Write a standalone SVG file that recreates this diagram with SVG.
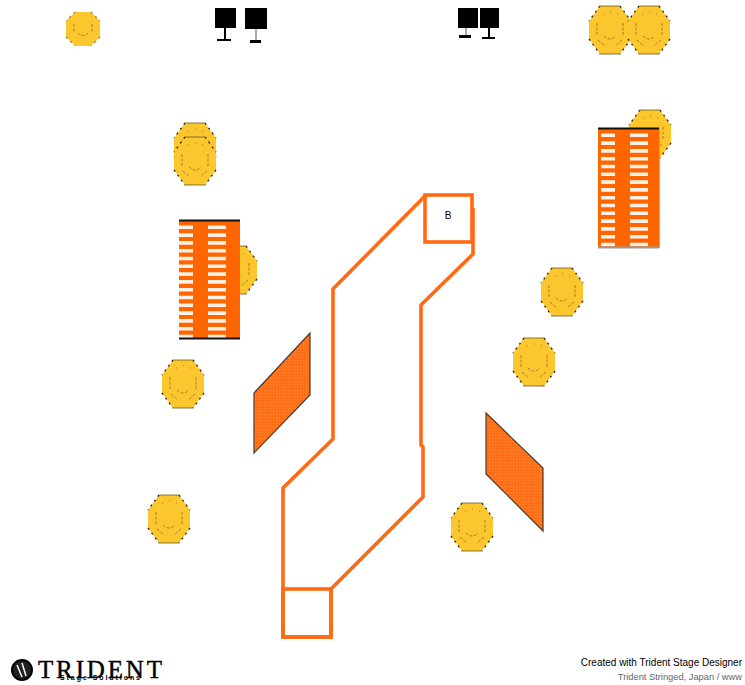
<svg xmlns="http://www.w3.org/2000/svg" width="745" height="685" viewBox="0 0 745 685">
<style>
.st{fill:none;stroke:#ff6a13;stroke-width:3.6}
.oct{fill:#fcc62f}
.edge{fill:none;stroke:#2c2a20;stroke-width:1.4;stroke-dasharray:2 4}
.cap{fill:none;stroke:#6a5a20;stroke-width:.8}
.f{fill:none;stroke:#a88420;stroke-width:1;stroke-dasharray:3 1.5}
.tr{fill:#ff6600}
.ramp{fill:url(#dots);stroke:#4a3a2a;stroke-width:1.2}
.t{font-family:"Liberation Sans",Arial,sans-serif}
</style>
<defs>
<pattern id="dots" width="3" height="3" patternUnits="userSpaceOnUse">
<rect width="3" height="3" fill="#ff6e14"/><rect width="1.2" height="1.2" fill="#ff8a3c"/>
</pattern>
<g id="smile">
<polygon class="oct" points="-10,-24 10,-24 21,-9 21,9 10,24 -10,24 -21,9 -21,-9"/>
<path class="edge" d="M-10-24L-21-9M10-24L21-9M-21 9L-10 24M21 9L10 24"/>
<path class="cap" d="M-10-24H10M-10 24H10"/>
<path class="f" d="M-13-7V5M13-7V5M-12 10L-5 16M12 10L5 16M-6 6Q0 12 6 6M-7-16H-6M0-18H1M7-16H8"/>
</g>
<g id="smile-small">
<polygon class="oct" points="-8,-17 8,-17 17,-8 17,8 8,17 -8,17 -17,8 -17,-8"/>
<path class="edge" d="M-8-17L-17-8M8-17L17-8M-17 8L-8 17M17 8L8 17" stroke-opacity=".5"/>
<path class="f" d="M-9-5V3M9-5V3M-5 4Q0 9 5 4"/>
</g>
<g id="dashes">
<path fill="#fff" opacity=".9" d="M1 5.500h14v3.600H1zM1 13.300h14v3.600H1zM1 21.100h14v3.600H1zM1 28.900h14v3.600H1zM1 36.700h14v3.600H1zM1 44.500h14v3.600H1zM1 52.300h14v3.600H1zM1 60.100h14v3.600H1zM1 67.900h14v3.600H1zM1 75.700h14v3.600H1zM1 83.500h14v3.600H1zM1 91.300h14v3.600H1zM1 99.100h14v3.600H1zM1 106.900h14v3.600H1zM1 114.700h14v3.600H1z"/>
<path fill="#fff" opacity=".9" d="M30 5.500h18v3.600H30zM30 13.300h18v3.600H30zM30 21.100h18v3.600H30zM30 28.900h18v3.600H30zM30 36.700h18v3.600H30zM30 44.500h18v3.600H30zM30 52.300h18v3.600H30zM30 60.100h18v3.600H30zM30 67.900h18v3.600H30zM30 75.700h18v3.600H30zM30 83.500h18v3.600H30zM30 91.300h18v3.600H30zM30 99.100h18v3.600H30zM30 106.900h18v3.600H30zM30 114.700h18v3.600H30z"/>
</g>
</defs>

<g id="connectors"></g>

<g id="stage">
<path class="st" d="M426 195L333 289V439L283 488V637H331V589L423 497V447L421 445V305L473 254V208"/>
<rect class="st" x="425" y="195" width="47" height="47"/>
<rect class="st" x="283" y="589" width="48" height="48"/>
<text class="t" x="448" y="219" font-size="10" text-anchor="middle" fill="#000">B</text>
</g>

<g id="smiley-1"><use href="#smile-small" transform="translate(83,29)"/></g>
<g id="smiley-2"><use href="#smile" transform="translate(610,30)"/></g>
<g id="smiley-3"><use href="#smile" transform="translate(649,30)"/></g>
<g id="smiley-4"><use href="#smile" transform="translate(195,147)"/></g>
<g id="smiley-5"><use href="#smile" transform="translate(195,161)"/></g>
<g id="smiley-6"><use href="#smile" transform="translate(650,134)"/></g>
<g id="smiley-7"><use href="#smile" transform="translate(236,270)"/></g>
<g id="smiley-8"><use href="#smile" transform="translate(562,292)"/></g>
<g id="smiley-9"><use href="#smile" transform="translate(534,362)"/></g>
<g id="smiley-10"><use href="#smile" transform="translate(183,384)"/></g>
<g id="smiley-11"><use href="#smile" transform="translate(169,519)"/></g>
<g id="smiley-12"><use href="#smile" transform="translate(472,527)"/></g>

<g id="truss-1">
<rect class="tr" x="179" y="220" width="61" height="119"/>
<use href="#dashes" x="178" y="220"/>
<path d="M179 220.500H240M179 338.500H240" stroke="#111" stroke-width="2"/>
</g>
<g id="truss-2">
<rect class="tr" x="598" y="128" width="61" height="120"/>
<use href="#dashes" x="600" y="128"/>
<path d="M598 128.500H659" stroke="#111" stroke-width="2"/>
<path d="M598 247.500H659" stroke="#999" stroke-width="2"/>
<path d="M659.500 128V248" stroke="#aaa"/>
</g>

<g id="ramp-1"><polygon class="ramp" points="310,333 310,395 254,453 254,393"/></g>
<g id="ramp-2"><polygon class="ramp" points="486,413 543,468 543,531 486,474"/></g>

<g id="monitor-1"><rect x="215" y="8" width="21" height="20"/><path d="M224 28h2v12h-2zM217 39h14v2h-14z"/></g>
<g id="monitor-2"><rect x="245" y="8" width="22" height="21"/><path d="M255 29h2v11h-2z" fill="#aaa"/><path d="M250 40h11v3h-11z"/></g>
<g id="monitor-3"><rect x="458" y="8" width="20" height="20"/><path d="M465 28h2v8h-2z" fill="#aaa"/><path d="M459 35h12v3h-12z"/></g>
<g id="monitor-4"><rect x="480" y="8" width="19" height="20"/><path d="M488 28h2v11h-2zM482 37h13v2h-13z"/></g>

<g id="logo">
<circle cx="22" cy="670" r="10" fill="#222" stroke="#000" stroke-width="2"/>
<path d="M17 665L22 677M22 663L26 676" stroke="#fff" stroke-width="1.5" fill="none"/>
<text x="38" y="678" font-family="Liberation Serif,serif" font-size="25" textLength="124" stroke="#000" stroke-width=".4">TRIDENT</text>
<text x="60" y="680" font-family="Liberation Sans,sans-serif" font-size="7" font-weight="bold" textLength="80">Stage Solutions</text>
</g>
<g id="credit">
<text class="t" x="742" y="666" font-size="10" text-anchor="end" fill="#000">Created with Trident Stage Designer</text>
<text class="t" x="742" y="680" font-size="9.300" text-anchor="end" fill="#666">Trident Stringed, Japan / www</text>
</g>
</svg>
